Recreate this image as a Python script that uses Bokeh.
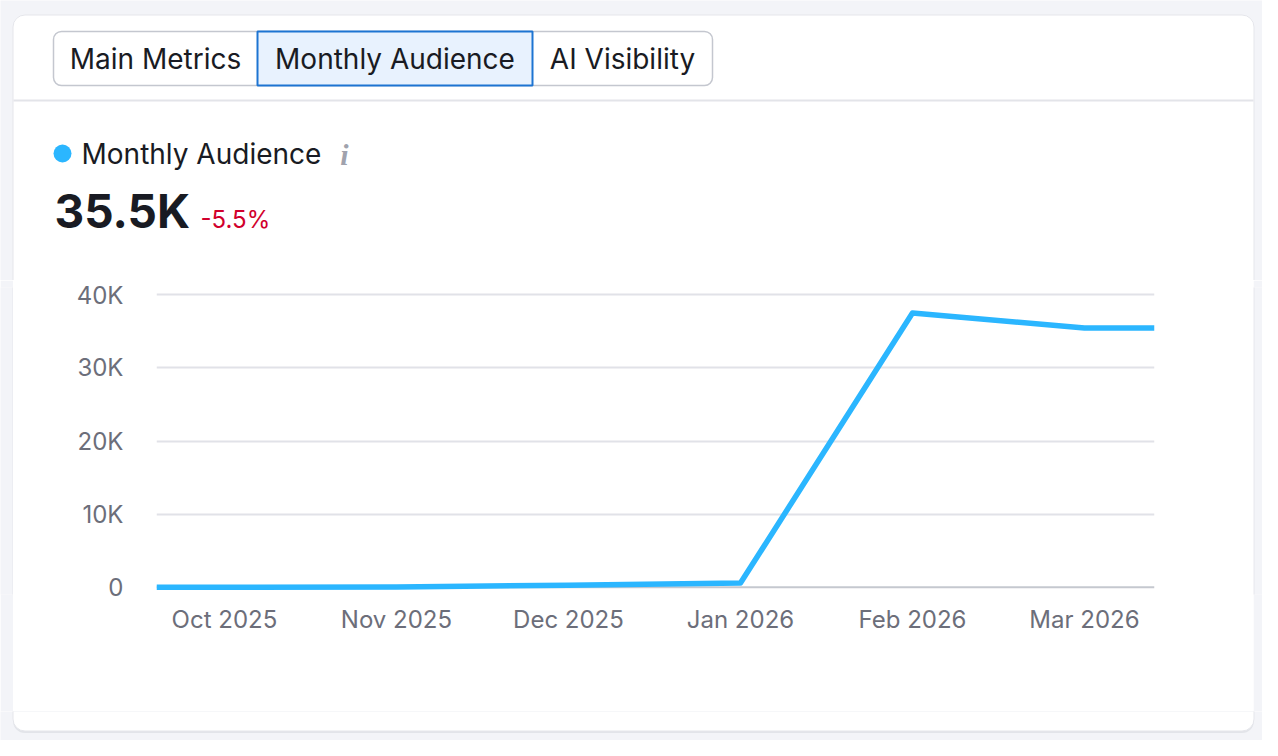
from bokeh.plotting import figure
from bokeh.layouts import column, row
from bokeh.models import Range1d, FixedTicker, Label, BoxAnnotation, Span
from bokeh.embed import file_html
from bokeh.resources import INLINE

# ---------------- data ----------------
months = ["Oct 2025", "Nov 2025", "Dec 2025", "Jan 2026", "Feb 2026", "Mar 2026"]
audience = [0, 20, 270, 560, 37500, 35450]
y_ticks = [0, 10000, 20000, 30000, 40000]
y_tick_labels = ["0", "10K", "20K", "30K", "40K"]
tabs = ["Main Metrics", "Monthly Audience", "AI Visibility"]
selected_tab = "Monthly Audience"
metric_name = "Monthly Audience"
metric_value = "35.5K"
metric_change = "-5.5%"

# ---------------- layout constants (canvas pixels) ----------------
W, H = 1262, 740
CL, CR, CT, CB, CRAD = 12, 1254, 14, 731, 12      # card
HEAD_H = 280                                       # header strip height
FOOT_Y = 711                                       # footer strip top
SL, SR = CL + 1, CR - 1                            # chart figure spans SL..SR
FL, FR, FT, FB = 156, 1154, 287, 594               # chart plot frame
x_start, x_end = -0.395, 5.407
y_start, y_end = -1000, 41000

TEXT = "#191b23"
MUTED = "#6c6e7a"
BLUE = "#2bb6ff"
PAGE = "#f3f4f8"
CARD_EDGE = "#e5e6eb"


def pixel_fig(w, h, y0):
    f = figure(width=w, height=h, x_range=Range1d(0, w), y_range=Range1d(y0 + h, y0),
               x_axis_type=None, y_axis_type=None,
               output_backend="svg", toolbar_location=None,
               min_border=0, min_border_left=0, min_border_right=0,
               min_border_top=0, min_border_bottom=0,
               border_fill_color=PAGE, background_fill_color=PAGE,
               outline_line_color=None)
    return f


def box(f, l, r, t, b, fill=None, line=None, lw=1, radius=0):
    f.add_layout(BoxAnnotation(left=l, right=r, top=t, bottom=b,
                               fill_color=fill, fill_alpha=1 if fill else 0,
                               line_color=line, line_alpha=1 if line else 0,
                               line_width=lw, border_radius=int(radius),
                               level="annotation"))


def lab(f, x, y, text, size, color, font="Inter", style="normal",
        align="left", baseline="middle"):
    f.add_layout(Label(x=x, y=y, text=text, text_font=font,
                       text_font_size=f"{size}px", text_color=color,
                       text_font_style=style, text_align=align,
                       text_baseline=baseline))


# ---------------- header (tabs + metric) ----------------
head = pixel_fig(W, HEAD_H, 0)
box(head, CL + 0.5, CR - 0.5, CT + 0.5, HEAD_H + 40, "white", line=CARD_EDGE, lw=1, radius=CRAD)

box(head, 53, 712, 31, 85, "white", line="#c4c7cf", lw=1.5, radius=8)
tab_bounds = [(53, 257), (257, 532), (532, 712)]
for name, (l, r) in zip(tabs, tab_bounds):
    if name == selected_tab:
        box(head, l, r, 31, 85, "#e8f2fe", line="#1d74d2", lw=2)
for name, (l, r) in zip(tabs, tab_bounds):
    lab(head, (l + r) / 2, 58, name, 28, TEXT, align="center")

box(head, CL + 1, CR - 1, 99, 101, "#e3e4e9")

box(head, 53, 71, 144, 162, BLUE, radius=9)
lab(head, 81, 153, metric_name, 28, TEXT)
lab(head, 344, 154, "i", 30, "#a0a2ad", font="Liberation Serif",
    style="bold italic", align="center")
lab(head, 54, 210, metric_value, 46, TEXT, style="bold")
lab(head, 200, 219, metric_change, 24, "#d1002c")

# ---------------- side strips of the page background ----------------
MID_H = FOOT_Y - HEAD_H
left_strip = pixel_fig(SL, MID_H, HEAD_H)
box(left_strip, CL, SL, HEAD_H - 5, FOOT_Y + 5, CARD_EDGE)
right_strip = pixel_fig(W - SR, MID_H, HEAD_H)
box(right_strip, 0, 1, HEAD_H - 5, FOOT_Y + 5, CARD_EDGE)

# ---------------- footer (rounded card bottom) ----------------
foot = pixel_fig(W, H - FOOT_Y, FOOT_Y)
box(foot, CL + 0.5, CR - 0.5, FOOT_Y - 40, CB + 1.5, "#e2e4e9", radius=CRAD)
box(foot, CL + 0.5, CR - 0.5, FOOT_Y - 40, CB - 0.5, "white", line=CARD_EDGE, lw=1, radius=CRAD)

# ---------------- chart ----------------
p = figure(width=SR - SL, height=MID_H,
           x_range=Range1d(x_start, x_end), y_range=Range1d(y_start, y_end),
           output_backend="svg", toolbar_location=None,
           min_border_left=FL - SL, min_border_right=SR - FR,
           min_border_top=FT - HEAD_H, min_border_bottom=FOOT_Y - FB,
           border_fill_color="white", background_fill_color="white",
           outline_line_color=None)

p.xgrid.visible = False
p.ygrid.ticker = FixedTicker(ticks=y_ticks[1:])
p.ygrid.grid_line_color = "#e1e2e8"
p.ygrid.grid_line_width = 2
p.add_layout(Span(location=y_ticks[0], dimension="width",
                  line_color="#c5c8cf", line_width=2, level="underlay"))

xs = [x_start] + list(range(len(months))) + [x_end]
ys = [audience[0]] + audience + [audience[-1]]
p.line(xs, ys, line_color=BLUE, line_width=5.5, line_join="round")

p.yaxis.ticker = FixedTicker(ticks=y_ticks)
p.yaxis.major_label_overrides = {t: s for t, s in zip(y_ticks, y_tick_labels)}
p.xaxis.ticker = FixedTicker(ticks=list(range(len(months))))
p.xaxis.major_label_overrides = {i: m for i, m in enumerate(months)}
for ax in (p.xaxis, p.yaxis):
    ax.axis_line_color = None
    ax.major_tick_line_color = None
    ax.minor_tick_line_color = None
    ax.major_tick_in = 0
    ax.major_tick_out = 0
    ax.major_label_text_font = "Inter"
    ax.major_label_text_font_size = "24px"
    ax.major_label_text_color = MUTED
p.yaxis.major_label_standoff = 33
p.xaxis.major_label_standoff = 10

layout = column(head, row(left_strip, p, right_strip, spacing=0), foot, spacing=0)

open("out.html", "w").write(file_html(layout, INLINE))
